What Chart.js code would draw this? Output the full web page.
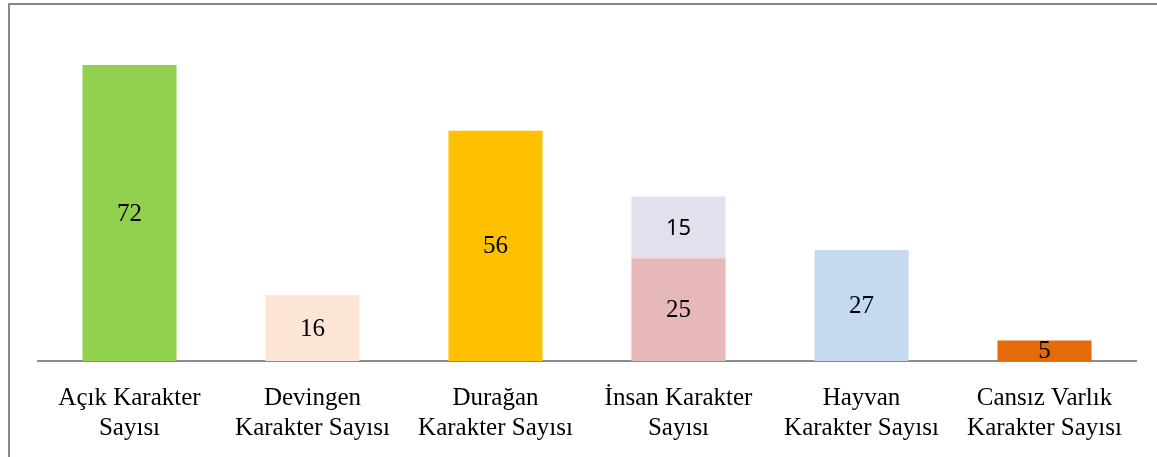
<!DOCTYPE html>
<html>
<head>
<meta charset="utf-8">
<script src="https://cdn.jsdelivr.net/npm/chart.js@4.4.1/dist/chart.umd.min.js"></script>
<style>
  html, body { margin: 0; padding: 0; background: #fff; }
  #wrap { position: relative; width: 1157px; height: 457px; }
</style>
</head>
<body>
<div id="wrap">
  <canvas id="charChart" width="1157" height="457"></canvas>
</div>
<script>
// Chart data
const categories = [
  ['Açık Karakter', 'Sayısı'],
  ['Devingen', 'Karakter Sayısı'],
  ['Durağan', 'Karakter Sayısı'],
  ['İnsan Karakter', 'Sayısı'],
  ['Hayvan', 'Karakter Sayısı'],
  ['Cansız Varlık', 'Karakter Sayısı']
];
const mainValues = [72, 16, 56, 25, 27, 5];
const extraValues = [null, null, null, 15, null, null];
const mainColors = ['#92D050', '#FCE4D6', '#FFC000', '#E6B8B7', '#C5D9F1', '#E36C09'];
const extraColor = '#E4DFEC';

// Frame lines (top + left) like the source picture
const framePlugin = {
  id: 'frame',
  beforeDraw(chart) {
    const ctx = chart.ctx;
    ctx.save();
    ctx.strokeStyle = '#888888';
    ctx.lineWidth = 2;
    ctx.beginPath();
    ctx.moveTo(9, chart.height);
    ctx.lineTo(9, 4);
    ctx.lineTo(chart.width, 4);
    ctx.stroke();
    ctx.restore();
  }
};

// Value labels centred in each bar segment
const valueLabels = {
  id: 'valueLabels',
  afterDatasetsDraw(chart) {
    const ctx = chart.ctx;
    ctx.save();
    ctx.textAlign = 'center';
    ctx.textBaseline = 'middle';
    ctx.fillStyle = '#000';
    chart.data.datasets.forEach((ds, i) => {
      const meta = chart.getDatasetMeta(i);
      ctx.font = ds.labelFont;
      meta.data.forEach((bar, j) => {
        const v = ds.data[j];
        if (v === null || v === undefined) return;
        const y = (bar.y + bar.base) / 2;
        ctx.fillText(String(v), bar.x, y + 1);
      });
    });
    ctx.restore();
  }
};

new Chart(document.getElementById('charChart'), {
  type: 'bar',
  data: {
    labels: categories,
    datasets: [
      {
        data: mainValues,
        backgroundColor: mainColors,
        labelFont: '25px "Liberation Serif", serif'
      },
      {
        data: extraValues,
        backgroundColor: extraColor,
        labelFont: '22px "Noto Sans", sans-serif'
      }
    ]
  },
  options: {
    responsive: false,
    devicePixelRatio: 1,
    animation: false,
    layout: {
      padding: { left: 38, right: 21, top: 32, bottom: -1 }
    },
    plugins: {
      legend: { display: false },
      tooltip: { enabled: false }
    },
    datasets: {
      bar: {
        categoryPercentage: 1,
        barPercentage: 0.514,
        borderWidth: 0
      }
    },
    scales: {
      x: {
        stacked: true,
        grid: { display: false },
        border: { display: true, color: '#8c8c8c', width: 2 },
        ticks: {
          color: '#000',
          padding: 14,
          maxRotation: 0,
          autoSkip: false,
          font: { family: '"Liberation Serif", serif', size: 25, lineHeight: 1.22 }
        }
      },
      y: {
        stacked: true,
        display: false,
        min: 0,
        max: 80
      }
    }
  },
  plugins: [framePlugin, valueLabels]
});
</script>
</body>
</html>
